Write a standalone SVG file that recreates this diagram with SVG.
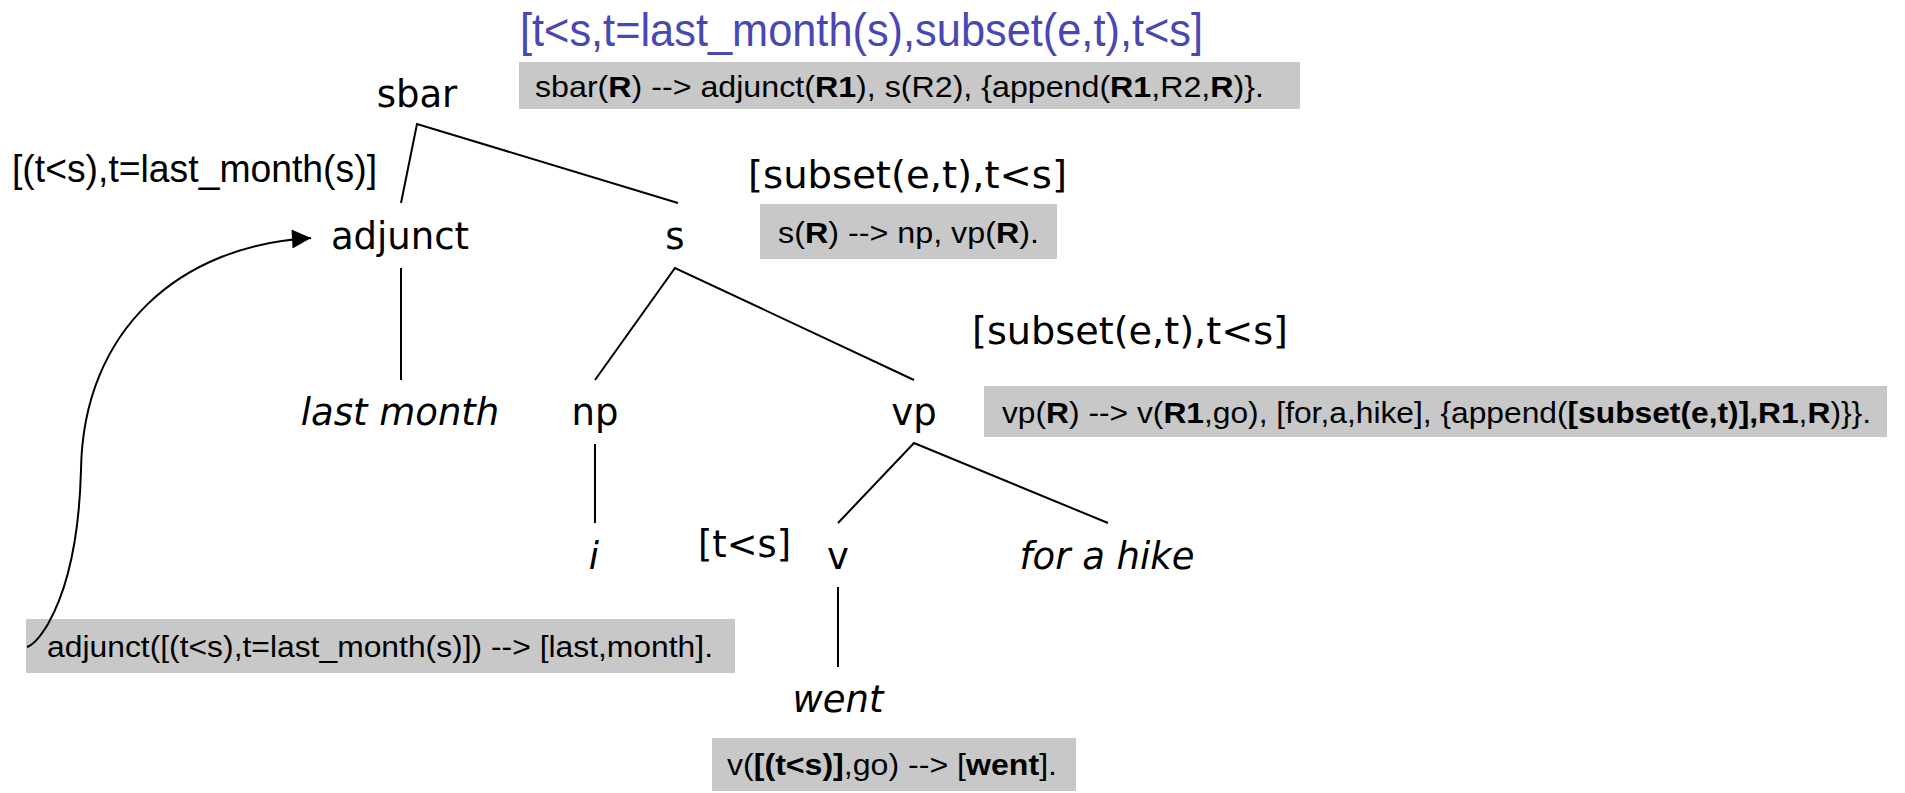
<svg xmlns="http://www.w3.org/2000/svg" width="1905" height="793" viewBox="0 0 1905 793">
  <style>
    .cat { font-family: "DejaVu Sans", Verdana, sans-serif; font-size: 37px; fill: #000; }
    .word { font-family: "DejaVu Sans", Verdana, sans-serif; font-size: 37px; font-style: italic; fill: #000; }
    .sem { font-family: "DejaVu Sans", Verdana, sans-serif; font-size: 37px; fill: #000; }
    .narrow { font-family: "Liberation Sans", Arial, sans-serif; font-size: 38px; fill: #000; }
    .blue { font-family: "Liberation Sans", Arial, sans-serif; font-size: 46px; fill: #4848b4; }
    .rule { font-family: "Liberation Sans", Arial, sans-serif; font-size: 30px; fill: #000; }
    .box { fill: #c8c8c8; }
    .edge { stroke: #000; stroke-width: 2; fill: none; }
    .b { font-weight: bold; }
  </style>
  <defs>
    <marker id="arrow" viewBox="0 0 10 10" refX="10" refY="5" markerWidth="20" markerHeight="19" markerUnits="userSpaceOnUse" orient="auto">
      <path d="M0,0 L10,5 L0,10 Z" fill="#000"/>
    </marker>
  </defs>

  <!-- sbar -->
  <g id="node-sbar">
    <text class="blue" x="520" y="46" textLength="683" lengthAdjust="spacingAndGlyphs">[t&lt;s,t=last_month(s),subset(e,t),t&lt;s]</text>
    <rect class="box" x="519" y="62" width="781" height="47"/>
    <text class="rule" x="535" y="97" textLength="729" lengthAdjust="spacingAndGlyphs">sbar(<tspan class="b">R</tspan>) --&gt; adjunct(<tspan class="b">R1</tspan>), s(R2), {append(<tspan class="b">R1</tspan>,R2,<tspan class="b">R</tspan>)}.</text>
    <text class="cat" x="417" y="107" text-anchor="middle">sbar</text>
  </g>

  <!-- adjunct -->
  <g id="node-adjunct">
    <text class="narrow" x="12" y="182" textLength="365" lengthAdjust="spacingAndGlyphs">[(t&lt;s),t=last_month(s)]</text>
    <text class="cat" x="400" y="249" text-anchor="middle">adjunct</text>
  </g>

  <!-- s -->
  <g id="node-s">
    <text class="sem" x="748" y="188" textLength="319" lengthAdjust="spacingAndGlyphs">[subset(e,t),t&lt;s]</text>
    <rect class="box" x="760" y="204" width="297" height="55"/>
    <text class="rule" x="778" y="243" textLength="261" lengthAdjust="spacingAndGlyphs">s(<tspan class="b">R</tspan>) --&gt; np, vp(<tspan class="b">R</tspan>).</text>
    <text class="cat" x="675" y="249" text-anchor="middle">s</text>
  </g>

  <!-- last month -->
  <g id="node-last-month">
    <text class="word" x="400" y="425" text-anchor="middle">last month</text>
  </g>

  <!-- np -->
  <g id="node-np">
    <text class="cat" x="595" y="425" text-anchor="middle">np</text>
  </g>

  <!-- vp -->
  <g id="node-vp">
    <text class="sem" x="972" y="344" textLength="316" lengthAdjust="spacingAndGlyphs">[subset(e,t),t&lt;s]</text>
    <rect class="box" x="984" y="386" width="903" height="51"/>
    <text class="rule" x="1002" y="423" textLength="869" lengthAdjust="spacingAndGlyphs">vp(<tspan class="b">R</tspan>) --&gt; v(<tspan class="b">R1</tspan>,go), [for,a,hike], {append(<tspan class="b">[subset(e,t)],R1</tspan>,<tspan class="b">R</tspan>)}}.</text>
    <text class="cat" x="914" y="425" text-anchor="middle">vp</text>
  </g>

  <!-- i -->
  <g id="node-i">
    <text class="word" x="594" y="569" text-anchor="middle">i</text>
  </g>

  <!-- v -->
  <g id="node-v">
    <text class="sem" x="698" y="557" textLength="93" lengthAdjust="spacingAndGlyphs">[t&lt;s]</text>
    <text class="cat" x="838" y="569" text-anchor="middle">v</text>
  </g>

  <!-- for a hike -->
  <g id="node-for-a-hike">
    <text class="word" x="1107" y="569" text-anchor="middle">for a hike</text>
  </g>

  <!-- went -->
  <g id="node-went">
    <text class="word" x="838" y="712" text-anchor="middle">went</text>
    <rect class="box" x="712" y="738" width="364" height="53"/>
    <text class="rule" x="727" y="775" textLength="330" lengthAdjust="spacingAndGlyphs">v(<tspan class="b">[(t&lt;s)]</tspan>,go) --&gt; [<tspan class="b">went</tspan>].</text>
  </g>

  <!-- lexical rule for the adjunct -->
  <g id="rule-adjunct">
    <rect class="box" x="26" y="619" width="709" height="54"/>
    <text class="rule" x="47" y="657" textLength="666" lengthAdjust="spacingAndGlyphs">adjunct([(t&lt;s),t=last_month(s)]) --&gt; [last,month].</text>
  </g>

  <!-- tree edges and the arrow from the lexical rule -->
  <g id="edges">
    <polyline class="edge" points="401,203 417,124 678,203"/>
    <line class="edge" x1="401" y1="268" x2="401" y2="380"/>
    <polyline class="edge" points="595,380 675,268 914,380"/>
    <line class="edge" x1="595" y1="444" x2="595" y2="523"/>
    <polyline class="edge" points="838,523 914,443 1108,523"/>
    <line class="edge" x1="838" y1="587" x2="838" y2="667"/>
    <path class="edge" d="M 27 647 Q 36 644 48 624 C 66 592, 79 545, 81 470 C 83 330, 180 245, 311 238" marker-end="url(#arrow)"/>
  </g>
</svg>
